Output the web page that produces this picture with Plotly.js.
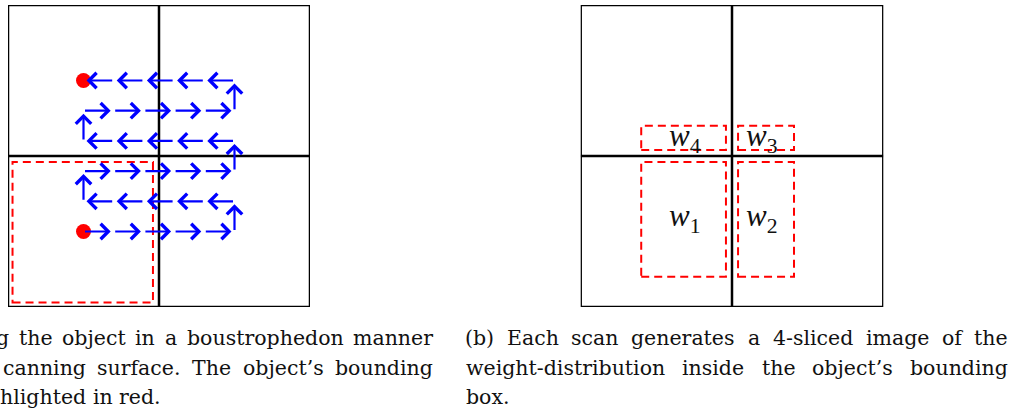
<!DOCTYPE html>
<html>
<head>
<meta charset="utf-8">
<script src="https://cdn.plot.ly/plotly-3.0.1.min.js"></script>
<style>html,body{margin:0;padding:0;background:#fff;}#chart{width:1012px;height:409px;}</style>
</head>
<body>
<div id="chart"></div>
<script>
// ---------- data ----------
// panel square spans 0..10 in both directions, split into 4 quadrants
const squareRange = [0, 10];
const dividers = [5];
// boustrophedon scan path waypoints (panel a)
const scanX = [2.5, 7.5, 7.5, 2.5, 2.5, 7.5, 7.5, 2.5, 2.5, 7.5, 7.5, 2.5];
const scanY = [2.5, 2.5, 3.5, 3.5, 4.5, 4.5, 5.5, 5.5, 6.5, 6.5, 7.5, 7.5];
// start / end points (red dots)
const dotX = [2.5, 2.5];
const dotY = [2.5, 7.5];
// object bounding box (panel a)
const bboxX = [0.15, 4.8];
const bboxY = [0.15, 4.8];
// weight slices (panel b)
const sliceNames = ["w1", "w2", "w3", "w4"];
const sliceX0 = [2.0, 5.2, 5.2, 2.0];
const sliceX1 = [4.8, 7.05, 7.05, 4.8];
const sliceY0 = [1.0, 1.0, 5.2, 5.2];
const sliceY1 = [4.8, 4.8, 6.0, 6.0];
const labelX = [3.45, 6.0, 6.0, 3.45];
const labelY = [2.95, 2.95, 5.6, 5.6];
// captions
const captionA = ["g the object in a boustrophedon manner", "canning surface.  The object\u2019s bounding", "hlighted in red."];
const captionB = ["(b) Each scan generates a 4-sliced image of the", "weight-distribution inside the object\u2019s bounding", "box."];

// ---------- layout helpers ----------
const W = 1012, H = 409;
const FONT = "DejaVu Serif";
const LABEL_FONT = "Liberation Serif";
const CAP_SIZE = 20.5;
const px2x = p => p / W;
const px2y = p => 1 - p / H;

const shapes = [];
const annotations = [];

function squareShapes(xr, yr) {
  shapes.push({type: 'rect', xref: xr, yref: yr, x0: squareRange[0], x1: squareRange[1], y0: squareRange[0], y1: squareRange[1], line: {color: '#000', width: 2.5}});
  dividers.forEach(d => {
    shapes.push({type: 'line', xref: xr, yref: yr, x0: d, x1: d, y0: squareRange[0], y1: squareRange[1], line: {color: '#000', width: 2.5}});
    shapes.push({type: 'line', xref: xr, yref: yr, x0: squareRange[0], x1: squareRange[1], y0: d, y1: d, line: {color: '#000', width: 2.5}});
  });
}
squareShapes('x', 'y');
squareShapes('x2', 'y2');

const dashed = {color: '#ff0000', width: 2, dash: '8px,5px'};
shapes.push({type: 'rect', xref: 'x', yref: 'y', x0: bboxX[0], x1: bboxX[1], y0: bboxY[0], y1: bboxY[1], line: dashed});
sliceNames.forEach((n, i) => {
  shapes.push({type: 'rect', xref: 'x2', yref: 'y2', x0: sliceX0[i], x1: sliceX1[i], y0: sliceY0[i], y1: sliceY1[i], line: dashed});
  annotations.push({xref: 'x2', yref: 'y2', x: labelX[i], y: labelY[i], showarrow: false,
    text: '<i>' + n[0] + '</i><sub>' + n.slice(1) + '</sub>',
    font: {family: LABEL_FONT, size: 31, color: '#111'}, xanchor: 'center', yanchor: 'middle'});
});

// scan arrows: one unit step per arrow, each covering 0.9 of the step
for (let i = 0; i < scanX.length - 1; i++) {
  const dx = Math.sign(scanX[i + 1] - scanX[i]);
  const dy = Math.sign(scanY[i + 1] - scanY[i]);
  const len = Math.abs(scanX[i + 1] - scanX[i]) + Math.abs(scanY[i + 1] - scanY[i]);
  for (let k = 0; k < len; k++) {
    const sx = scanX[i] + dx * k, sy = scanY[i] + dy * k;
    annotations.push({xref: 'x', yref: 'y', axref: 'x', ayref: 'y',
      x: sx + dx * 0.9, y: sy + dy * 0.9, ax: sx, ay: sy, text: '', showarrow: true,
      arrowhead: 4, arrowsize: 1.35, arrowwidth: 2.2, arrowcolor: '#0000ff', standoff: 0, startstandoff: 0});
  }
}

// captions (justified lines, word by word)
const cv = document.createElement('canvas').getContext('2d');
cv.font = CAP_SIZE + "px '" + FONT + "'";
function captionLine(text, left, right, baseline, justify) {
  const words = text.split(/\s+/);
  const widths = words.map(w => cv.measureText(w).width);
  const total = widths.reduce((a, b) => a + b, 0);
  const gap = justify && words.length > 1 ? (right - left - total) / (words.length - 1) : cv.measureText(' ').width;
  let x = left;
  words.forEach((w, i) => {
    annotations.push({xref: 'paper', yref: 'paper', x: px2x(x), y: px2y(baseline + 5), text: w, showarrow: false,
      xanchor: 'left', yanchor: 'bottom', borderpad: 0, borderwidth: 0,
      font: {family: FONT, size: CAP_SIZE, color: '#111'}});
    x += widths[i] + gap;
  });
}
const baselines = [345, 374.5, 404];
captionLine(captionA[0], -4, 433, baselines[0], true);
captionLine(captionA[1], 3, 433, baselines[1], true);
captionLine(captionA[2], 0, 433, baselines[2], false);
captionLine(captionB[0], 465, 1008, baselines[0], true);
captionLine(captionB[1], 466, 1008, baselines[1], true);
captionLine(captionB[2], 466, 1008, baselines[2], false);

const data = [{
  type: 'scatter', mode: 'markers', x: dotX, y: dotY, xaxis: 'x', yaxis: 'y',
  marker: {color: '#ff0000', size: 15}, hoverinfo: 'skip'
}];

const axBase = {range: squareRange, visible: false, fixedrange: true};
const layout = {
  width: W, height: H, margin: {l: 0, r: 0, t: 0, b: 0},
  paper_bgcolor: '#fff', plot_bgcolor: 'rgba(0,0,0,0)', showlegend: false,
  xaxis: Object.assign({}, axBase, {domain: [px2x(8), px2x(310)], anchor: 'y'}),
  yaxis: Object.assign({}, axBase, {domain: [1 - 307 / H, 1 - 5 / H], anchor: 'x'}),
  xaxis2: Object.assign({}, axBase, {domain: [px2x(580.7), px2x(883.3)], anchor: 'y2'}),
  yaxis2: Object.assign({}, axBase, {domain: [1 - 307 / H, 1 - 5 / H], anchor: 'x2'}),
  shapes: shapes, annotations: annotations
};
Plotly.newPlot('chart', data, layout, {displayModeBar: false, staticPlot: true});
</script>
</body>
</html>
